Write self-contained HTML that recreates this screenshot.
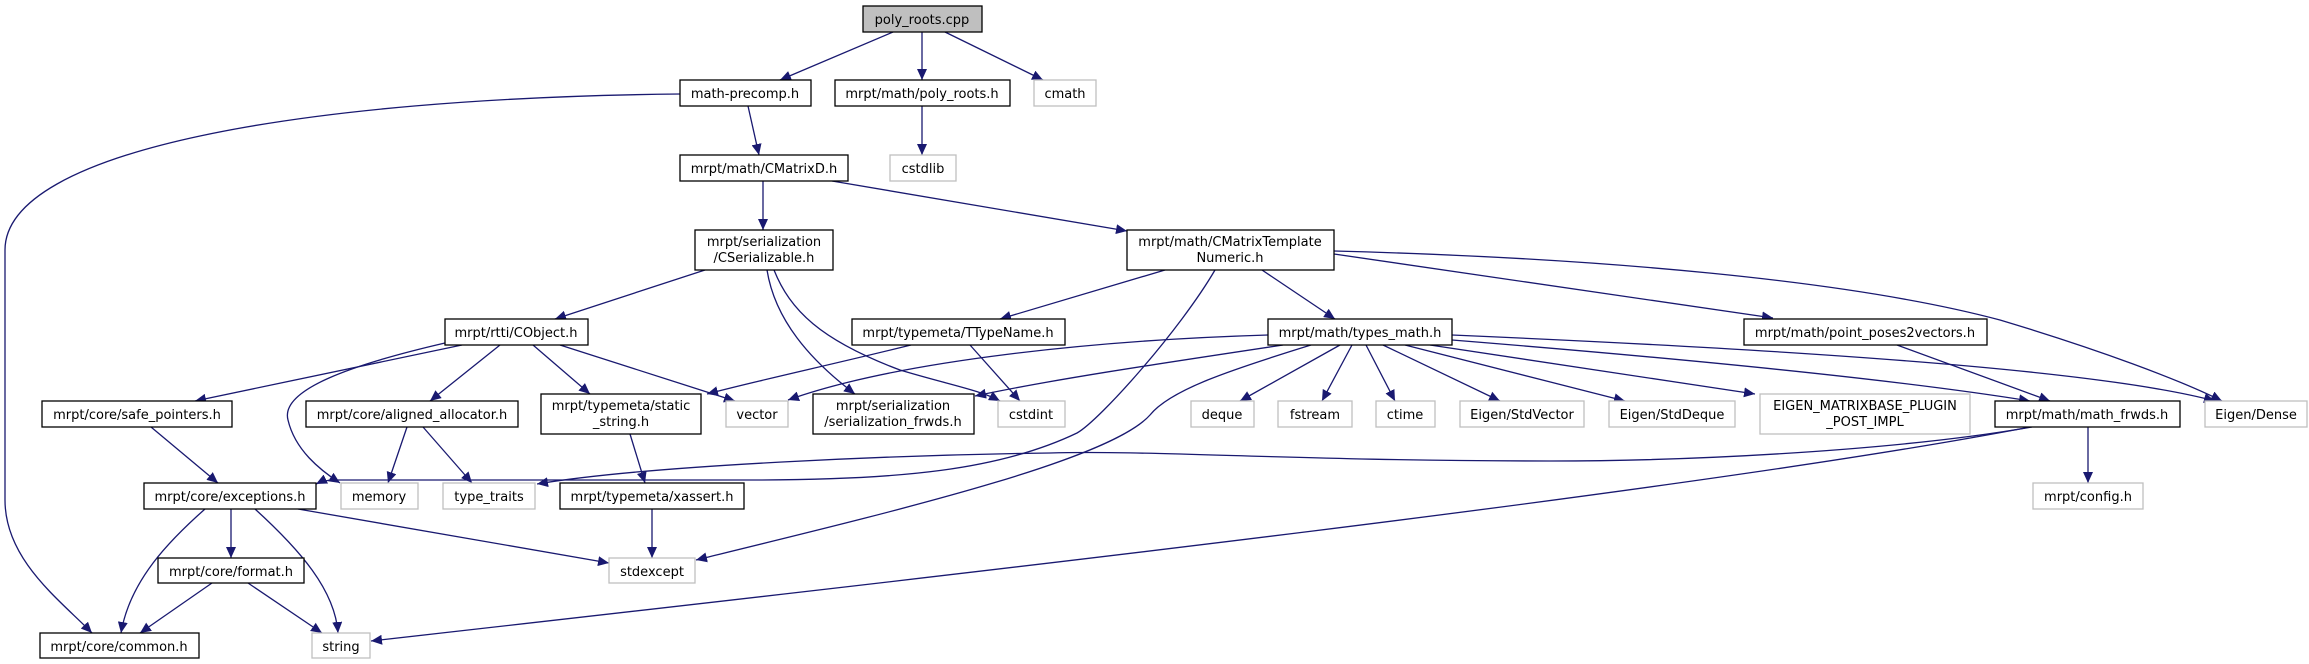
<!DOCTYPE html>
<html><head><meta charset="utf-8"><style>
html,body{margin:0;padding:0;background:#fff;}
svg{display:block}
text{font-family:"DejaVu Sans","Liberation Sans",sans-serif;font-size:13px;fill:#000;text-anchor:middle}
.n{fill:#fff;stroke:#000;stroke-width:1.3}
.g{fill:#fff;stroke:#bfbfbf;stroke-width:1.3}
.e{fill:none;stroke:#191970;stroke-width:1.3;marker-end:url(#a)}
</style></head><body>
<svg width="2309" height="664" viewBox="0 0 2309 664" xmlns="http://www.w3.org/2000/svg">
<defs><marker id="a" markerWidth="12" markerHeight="10" refX="11" refY="5" orient="auto" markerUnits="userSpaceOnUse"><path d="M0,0 L11,5 L0,10 z" fill="#191970"/></marker></defs>

<!-- edges -->
<path class="e" d="M893,32 L780,80"/>
<path class="e" d="M922,32 L922,80"/>
<path class="e" d="M945,32 L1043,80"/>
<path class="e" d="M680,94 C300,98 5,150 5,250 L5,500 C5,560 60,600 92,633"/>
<path class="e" d="M748,106 L759,155"/>
<path class="e" d="M922,106 L922,155"/>
<path class="e" d="M763,181 L763,230"/>
<path class="e" d="M832,181 L1127,231"/>
<path class="e" d="M705,270 L555,319"/>
<path class="e" d="M767,270 C775,320 810,360 855,394"/>
<path class="e" d="M774,270 C790,310 820,340 900,370 C950,385 980,390 1000,401"/>
<path class="e" d="M462,345 L195,401"/>
<path class="e" d="M445,343 C350,365 280,390 288,420 C295,450 320,470 340,483"/>
<path class="e" d="M500,345 L430,401"/>
<path class="e" d="M533,345 L590,394"/>
<path class="e" d="M560,345 L735,401"/>
<path class="e" d="M911,345 C830,365 760,380 707,394"/>
<path class="e" d="M970,345 L1020,401"/>
<path class="e" d="M1262,270 L1335,319"/>
<path class="e" d="M1165,270 L1000,319"/>
<path class="e" d="M1334,254 L1773,318"/>
<path class="e" d="M1334,251 C1600,258 1850,280 2000,320 C2100,350 2180,380 2222,401"/>
<path class="e" d="M1215,270 C1180,330 1100,420 1077,433 C1000,470 900,480 750,480 L330,480 C325,481 320,482 316,484"/>
<path class="e" d="M2032,427 C1900,450 1700,461 1550,461 C1300,461 1150,450 1050,453 C900,455 650,465 537,484"/>
<path class="e" d="M2025,428 C1700,490 1000,570 371,641"/>
<path class="e" d="M2088,427 L2088,483"/>
<path class="e" d="M1897,345 L2050,401"/>
<path class="e" d="M1268,335 C1100,340 900,360 788,400"/>
<path class="e" d="M1283,345 C1150,365 1050,380 975,396"/>
<path class="e" d="M1311,345 C1230,370 1170,390 1150,415 C1110,460 900,510 696,560"/>
<path class="e" d="M1340,345 L1240,401"/>
<path class="e" d="M1352,345 L1322,401"/>
<path class="e" d="M1366,345 L1395,401"/>
<path class="e" d="M1383,345 L1500,401"/>
<path class="e" d="M1405,345 L1625,401"/>
<path class="e" d="M1430,345 L1755,394"/>
<path class="e" d="M1452,340 C1700,360 1900,380 2030,401"/>
<path class="e" d="M1452,335 C1800,350 2100,370 2215,401"/>
<path class="e" d="M205,509 C170,540 130,580 121,633"/>
<path class="e" d="M231,509 L231,558"/>
<path class="e" d="M255,509 C300,550 335,590 338,633"/>
<path class="e" d="M298,509 L609,563"/>
<path class="e" d="M151,427 L218,483"/>
<path class="e" d="M407,427 L388,483"/>
<path class="e" d="M423,427 L472,483"/>
<path class="e" d="M630,434 L645,483"/>
<path class="e" d="M652,509 L652,558"/>
<path class="e" d="M212,583 L140,633"/>
<path class="e" d="M248,583 L322,633"/>

<!-- nodes -->
<rect x="863" y="6" width="119" height="26" fill="#bfbfbf" stroke="#000" stroke-width="1.3"/><text x="922" y="24">poly_roots.cpp</text>
<rect class="n" x="680" y="80" width="131" height="26"/><text x="745" y="98">math-precomp.h</text>
<rect class="n" x="835" y="80" width="175" height="26"/><text x="922" y="98">mrpt/math/poly_roots.h</text>
<rect class="g" x="1034" y="80" width="62" height="26"/><text x="1065" y="98">cmath</text>
<rect class="n" x="680" y="155" width="168" height="26"/><text x="764" y="173">mrpt/math/CMatrixD.h</text>
<rect class="g" x="890" y="155" width="66" height="26"/><text x="923" y="173">cstdlib</text>
<rect class="n" x="695" y="230" width="138" height="40"/><text x="764" y="246">mrpt/serialization</text><text x="764" y="262">/CSerializable.h</text>
<rect class="n" x="1127" y="230" width="207" height="40"/><text x="1230" y="246">mrpt/math/CMatrixTemplate</text><text x="1230" y="262">Numeric.h</text>
<rect class="n" x="445" y="319" width="143" height="26"/><text x="516" y="337">mrpt/rtti/CObject.h</text>
<rect class="n" x="852" y="319" width="213" height="26"/><text x="958" y="337">mrpt/typemeta/TTypeName.h</text>
<rect class="n" x="1268" y="319" width="184" height="26"/><text x="1360" y="337">mrpt/math/types_math.h</text>
<rect class="n" x="1744" y="319" width="243" height="26"/><text x="1865" y="337">mrpt/math/point_poses2vectors.h</text>
<rect class="n" x="42" y="401" width="190" height="26"/><text x="137" y="419">mrpt/core/safe_pointers.h</text>
<rect class="n" x="306" y="401" width="212" height="26"/><text x="412" y="419">mrpt/core/aligned_allocator.h</text>
<rect class="n" x="541" y="394" width="160" height="40"/><text x="621" y="410">mrpt/typemeta/static</text><text x="621" y="426">_string.h</text>
<rect class="g" x="726" y="401" width="62" height="26"/><text x="757" y="419">vector</text>
<rect class="n" x="813" y="394" width="161" height="40"/><text x="893" y="410">mrpt/serialization</text><text x="893" y="426">/serialization_frwds.h</text>
<rect class="g" x="998" y="401" width="67" height="26"/><text x="1031" y="419">cstdint</text>
<rect class="g" x="1191" y="401" width="63" height="26"/><text x="1222" y="419">deque</text>
<rect class="g" x="1278" y="401" width="74" height="26"/><text x="1315" y="419">fstream</text>
<rect class="g" x="1376" y="401" width="59" height="26"/><text x="1405" y="419">ctime</text>
<rect class="g" x="1460" y="401" width="124" height="26"/><text x="1522" y="419">Eigen/StdVector</text>
<rect class="g" x="1609" y="401" width="126" height="26"/><text x="1672" y="419">Eigen/StdDeque</text>
<rect class="g" x="1760" y="394" width="210" height="40"/><text x="1865" y="410">EIGEN_MATRIXBASE_PLUGIN</text><text x="1865" y="426">_POST_IMPL</text>
<rect class="n" x="1995" y="401" width="185" height="26"/><text x="2087" y="419">mrpt/math/math_frwds.h</text>
<rect class="g" x="2205" y="401" width="102" height="26"/><text x="2256" y="419">Eigen/Dense</text>
<rect class="n" x="144" y="483" width="172" height="26"/><text x="230" y="501">mrpt/core/exceptions.h</text>
<rect class="g" x="341" y="483" width="77" height="26"/><text x="379" y="501">memory</text>
<rect class="g" x="443" y="483" width="92" height="26"/><text x="489" y="501">type_traits</text>
<rect class="n" x="560" y="483" width="184" height="26"/><text x="652" y="501">mrpt/typemeta/xassert.h</text>
<rect class="g" x="2033" y="483" width="110" height="26"/><text x="2088" y="501">mrpt/config.h</text>
<rect class="n" x="158" y="558" width="146" height="25"/><text x="231" y="576">mrpt/core/format.h</text>
<rect class="g" x="609" y="558" width="86" height="25"/><text x="652" y="576">stdexcept</text>
<rect class="n" x="40" y="633" width="159" height="25"/><text x="119" y="651">mrpt/core/common.h</text>
<rect class="g" x="312" y="633" width="58" height="25"/><text x="341" y="651">string</text>
</svg>
</body></html>
